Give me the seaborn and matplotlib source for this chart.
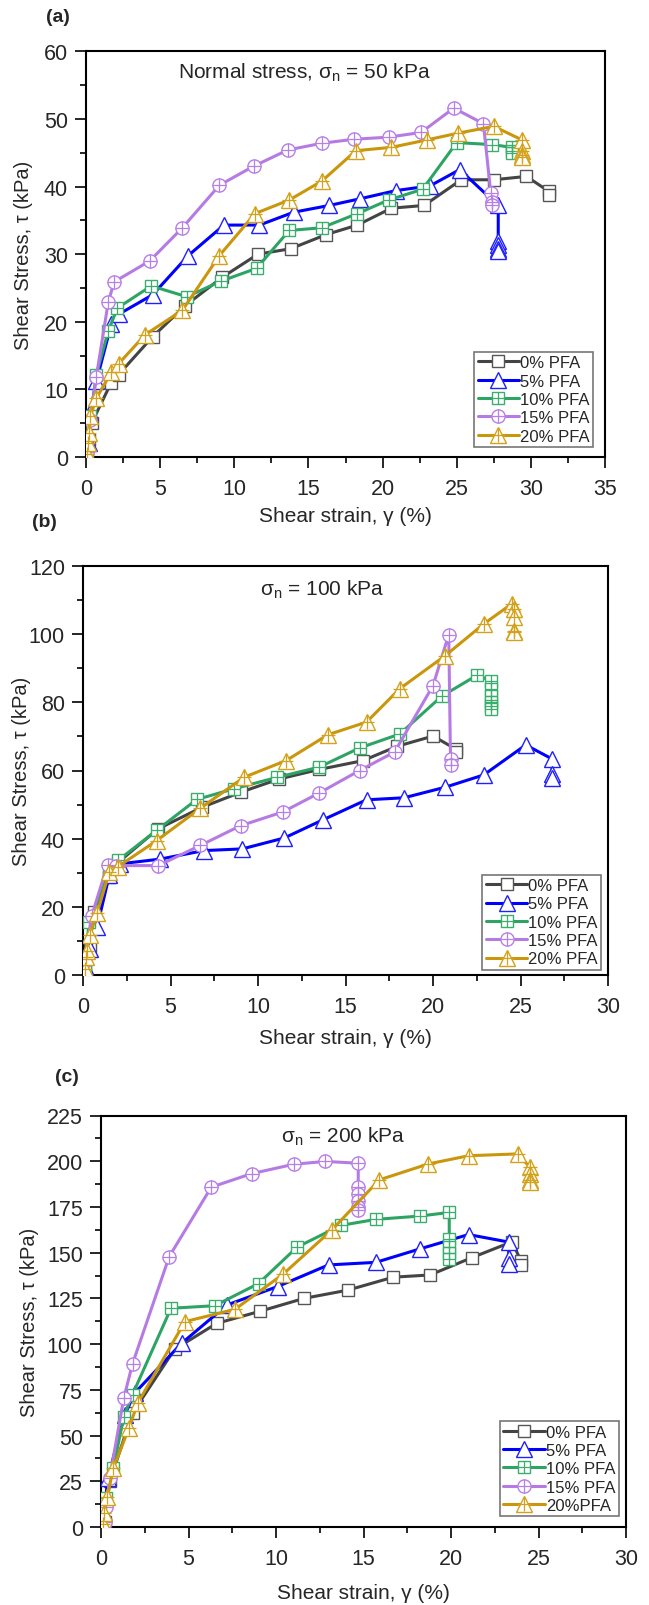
import numpy as np
import pandas as pd
import matplotlib
matplotlib.use("Agg")
import matplotlib.pyplot as plt
import seaborn as sns
from matplotlib.lines import Line2D
from matplotlib.legend_handler import HandlerTuple
from matplotlib.ticker import MultipleLocator

sns.set_style("white")
plt.rcParams['font.family'] = ['Liberation Sans', 'DejaVu Sans']
plt.rcParams['mathtext.fontset'] = 'custom'
plt.rcParams['mathtext.rm'] = 'Liberation Sans'
plt.rcParams['mathtext.it'] = 'Liberation Sans:italic'

# ---------------- DATA ----------------
series_names = ["0% PFA", "5% PFA", "10% PFA", "15% PFA", "20% PFA"]
series_names_c = ["0% PFA", "5% PFA", "10% PFA", "15% PFA", "20%PFA"]

# Panel (a): normal stress 50 kPa
a0_x = [0.1, 0.2, 0.4, 1.7, 2.2, 4.5, 6.7, 9.2, 11.6, 13.8, 16.2, 18.3, 20.6, 22.8, 25.3, 27.5, 29.7, 31.2, 31.2]
a0_y = [0.5, 2.5, 5.1, 11.0, 12.2, 17.8, 22.4, 26.6, 30.0, 30.8, 32.9, 34.3, 36.8, 37.2, 41.0, 41.0, 41.5, 39.3, 38.8]
a5_x = [0.1, 0.2, 0.3, 0.7, 1.7, 2.2, 4.5, 6.9, 9.3, 11.7, 14.0, 16.4, 18.5, 20.9, 23.2, 25.2, 27.8, 27.8, 27.8, 27.8, 27.8]
a5_y = [0.5, 2.0, 6.6, 11.2, 19.6, 21.1, 24.0, 29.8, 34.3, 34.3, 36.2, 37.2, 38.2, 39.4, 40.1, 42.5, 37.2, 32.0, 31.3, 30.8, 30.4]
a10_x = [0.1, 0.3, 0.7, 1.5, 2.1, 4.4, 6.8, 9.1, 11.5, 13.7, 15.9, 18.3, 20.4, 22.7, 25.0, 27.4, 28.7, 28.7, 28.7]
a10_y = [0.8, 6.0, 12.2, 18.6, 22.0, 25.3, 23.7, 26.0, 27.9, 33.5, 33.9, 36.0, 38.0, 39.6, 46.5, 46.2, 45.8, 45.3, 45.0]
a15_x = [0.1, 0.3, 0.7, 1.5, 1.9, 4.3, 6.5, 9.0, 11.3, 13.6, 15.9, 18.1, 20.4, 22.6, 24.8, 26.8, 27.3, 27.4, 27.4]
a15_y = [0.8, 5.5, 11.9, 22.9, 25.9, 29.0, 33.9, 40.2, 43.0, 45.4, 46.4, 47.0, 47.3, 48.0, 51.6, 49.3, 39.0, 37.7, 37.2]
a20_x = [0.1, 0.15, 0.2, 0.3, 0.7, 1.7, 2.2, 4.0, 6.5, 9.0, 11.4, 13.7, 15.9, 18.2, 20.6, 23.0, 25.1, 27.5, 29.4, 29.4, 29.4, 29.4]
a20_y = [0.5, 2.0, 3.5, 6.1, 8.7, 12.5, 13.8, 18.1, 21.7, 29.8, 36.0, 38.0, 40.8, 45.3, 45.8, 46.9, 47.9, 48.9, 46.9, 45.3, 44.6, 44.3]

# Panel (b): normal stress 100 kPa
b0_x = [0.1, 0.4, 0.6, 1.5, 2.0, 4.3, 6.8, 9.0, 11.2, 13.5, 16.0, 17.95, 20.0, 21.3, 21.3]
b0_y = [1.8, 8.6, 18.4, 28.7, 33.0, 42.9, 49.2, 53.6, 57.5, 60.3, 62.9, 67.1, 70.1, 66.3, 65.4]
b5_x = [0.1, 0.4, 0.8, 1.5, 2.1, 4.4, 6.9, 9.1, 11.5, 13.7, 16.2, 18.35, 20.7, 22.9, 25.3, 26.8, 26.8, 26.8]
b5_y = [2.7, 7.6, 14.0, 29.2, 32.6, 34.0, 36.5, 37.0, 40.2, 45.5, 51.4, 52.0, 55.1, 58.7, 67.5, 63.4, 59.0, 57.7]
b10_x = [0.1, 0.35, 1.5, 2.0, 4.2, 6.5, 8.6, 11.1, 13.5, 15.8, 18.1, 20.5, 22.5, 23.3, 23.3, 23.3, 23.3, 23.3, 23.3]
b10_y = [3.0, 15.5, 30.1, 33.6, 42.4, 51.5, 54.6, 58.0, 61.0, 66.6, 70.7, 81.8, 87.9, 86.4, 84.0, 82.0, 80.0, 79.0, 78.0]
b15_x = [0.1, 0.5, 1.4, 1.9, 4.3, 6.7, 9.0, 11.4, 13.5, 15.8, 17.8, 20.0, 20.9, 21.0, 21.0]
b15_y = [4.0, 17.4, 32.3, 32.1, 32.1, 38.0, 43.8, 47.8, 53.4, 60.0, 65.4, 84.9, 99.9, 63.4, 61.6]
b20_x = [0.1, 0.17, 0.2, 0.4, 0.8, 1.5, 2.0, 4.2, 6.7, 9.2, 11.6, 14.0, 16.2, 18.1, 20.7, 22.9, 24.5, 24.6, 24.6, 24.6, 24.6]
b20_y = [1.8, 5.2, 7.0, 11.8, 18.1, 30.1, 31.8, 39.4, 48.9, 58.0, 62.9, 70.5, 74.2, 84.0, 93.7, 103.0, 108.9, 107.4, 105.0, 101.0, 100.6]

# Panel (c): normal stress 200 kPa
c0_x = [0.2, 0.5, 1.8, 4.2, 6.6, 9.1, 11.6, 14.1, 16.7, 18.8, 21.2, 23.5, 24.0, 24.0]
c0_y = [2.6, 24.9, 62.3, 97.1, 111.3, 118.0, 125.0, 129.5, 136.6, 137.8, 147.3, 156.0, 145.3, 143.3]
c5_x = [0.17, 0.4, 1.35, 1.95, 4.6, 7.2, 10.1, 13.0, 15.7, 18.2, 21.0, 23.3, 23.3, 23.3]
c5_y = [7.7, 26.9, 61.3, 73.5, 100.4, 121.4, 131.5, 143.3, 144.7, 152.0, 159.9, 155.8, 147.3, 143.9]
c10_x = [0.3, 0.7, 1.3, 1.8, 4.0, 6.5, 9.0, 11.2, 13.7, 15.7, 18.2, 19.9, 19.9, 19.9, 19.9, 19.9]
c10_y = [15.8, 32.0, 60.3, 72.4, 119.6, 121.0, 133.1, 153.0, 164.9, 168.2, 170.0, 172.0, 157.4, 153.0, 150.0, 146.3]
c15_x = [0.2, 0.3, 0.5, 1.3, 1.8, 3.9, 6.3, 8.6, 11.0, 12.8, 14.7, 14.7, 14.7, 14.7, 14.7, 14.7]
c15_y = [2.6, 10.7, 26.9, 70.4, 89.2, 147.9, 185.8, 193.2, 198.3, 199.9, 198.9, 185.8, 182.0, 178.0, 175.0, 173.6]
c20_x = [0.1, 0.17, 0.35, 0.7, 1.6, 2.1, 4.8, 7.65, 10.4, 13.2, 15.9, 18.7, 21.0, 23.8, 24.5, 24.5, 24.5, 24.5]
c20_y = [1.6, 7.7, 16.2, 32.0, 54.2, 67.8, 112.3, 119.0, 138.2, 162.5, 189.8, 198.5, 203.0, 204.0, 196.9, 193.0, 190.0, 188.8]

panel_labels = ["(a)", "(b)", "(c)"]
panel_notes = [r"Normal stress, $\mathregular{\sigma_n}$ = 50 kPa",
               r"$\mathregular{\sigma_n}$ = 100 kPa",
               r"$\mathregular{\sigma_n}$ = 200 kPa"]
x_max = [35, 30, 30]
y_max = [60, 120, 225]
y_major = [10, 20, 25]

# ---------------- STYLE ----------------
line_colors = ["#444444", "#0000ff", "#2ea464", "#b67be3", "#c9960c"]
edge_colors = ["#555555", "#1f1fff", "#3aae6e", "#b77fe8", "#d4a21a"]
base_markers = ["s", "^", "s", "o", "^"]
plus_overlay = [False, False, True, True, True]
msizes = [8.5, 11, 8.5, 9.5, 11]

fig = plt.figure(figsize=(6.49, 16.06), dpi=100)
W, H = 649.0, 1606.0
# axes boxes in pixels: left, top, right, bottom
axes_px = [(86, 52.3, 605, 458), (83, 567, 608, 976), (101, 1116.5, 626, 1528)]
legend_anchor = [(0.977, 0.025), (0.987, 0.013), (0.986, 0.026)]
note_pos = [(0.42, 0.95), (0.455, 0.944), (0.461, 0.951)]
label_px = [(46, 17), (32, 523), (55, 1077)]
ylabel_x = [-0.121, -0.118, -0.137]
xlabel_y = [-0.144, -0.152, -0.158]

panels = [
    [(a0_x, a0_y), (a5_x, a5_y), (a10_x, a10_y), (a15_x, a15_y), (a20_x, a20_y)],
    [(b0_x, b0_y), (b5_x, b5_y), (b10_x, b10_y), (b15_x, b15_y), (b20_x, b20_y)],
    [(c0_x, c0_y), (c5_x, c5_y), (c10_x, c10_y), (c15_x, c15_y), (c20_x, c20_y)],
]
legend_names = [series_names, series_names, series_names_c]

for p in range(3):
    l, t, r, b = axes_px[p]
    ax = fig.add_axes([l / W, 1 - b / H, (r - l) / W, (b - t) / H])
    rows = []
    for i, (xs, ys) in enumerate(panels[p]):
        for j, (xv, yv) in enumerate(zip(xs, ys)):
            rows.append({"strain": xv, "stress": yv, "series": legend_names[p][i], "order": j})
    df = pd.DataFrame(rows)
    handles = []
    for i, name in enumerate(legend_names[p]):
        sub = df[df["series"] == name].sort_values("order")
        sns.lineplot(data=sub, x="strain", y="stress", estimator=None, sort=False,
                     color=line_colors[i], lw=2.2, marker=base_markers[i],
                     markersize=msizes[i], markerfacecolor="white",
                     markeredgecolor=edge_colors[i], markeredgewidth=1.0,
                     ax=ax, legend=False, zorder=3 + i)
        h_base = Line2D([], [], color=line_colors[i], lw=2.2, marker=base_markers[i],
                        markersize=msizes[i], markerfacecolor="white",
                        markeredgecolor=edge_colors[i], markeredgewidth=1.0)
        if plus_overlay[i]:
            pm = msizes[i] if base_markers[i] != "^" else msizes[i] * 0.95
            ax.plot(sub["strain"], sub["stress"], ls="none", marker="+",
                    markersize=pm, markeredgecolor=edge_colors[i],
                    markeredgewidth=0.9, zorder=3.5 + i)
            h_plus = Line2D([], [], ls="none", marker="+", markersize=pm,
                            markeredgecolor=edge_colors[i], markeredgewidth=0.9)
            handles.append((h_base, h_plus))
        else:
            handles.append(h_base)

    ax.set_xlim(0, x_max[p])
    ax.set_ylim(0, y_max[p])
    ax.xaxis.set_major_locator(MultipleLocator(5))
    ax.xaxis.set_minor_locator(MultipleLocator(2.5))
    ax.yaxis.set_major_locator(MultipleLocator(y_major[p]))
    ax.yaxis.set_minor_locator(MultipleLocator(y_major[p] / 2))
    ax.tick_params(axis="both", which="major", direction="out", length=8, width=1.4,
                   labelsize=15.5, bottom=True, left=True, top=False, right=False)
    ax.tick_params(axis="x", which="major", pad=7)
    ax.tick_params(axis="y", which="major", pad=5)
    ax.tick_params(axis="both", which="minor", direction="out", length=4, width=1.4,
                   bottom=True, left=True, top=False, right=False)
    for s in ax.spines.values():
        s.set_visible(True)
        s.set_linewidth(1.5)
        s.set_color("black")
    ax.set_xlabel("Shear strain, γ (%)", fontsize=15)
    ax.set_ylabel("Shear Stress, τ (kPa)", fontsize=14.5)
    ax.xaxis.set_label_coords(0.5, xlabel_y[p])
    ax.yaxis.set_label_coords(ylabel_x[p], 0.5)
    ax.xaxis.label.set_va("center")
    ax.yaxis.label.set_va("center")
    ax.text(note_pos[p][0], note_pos[p][1], panel_notes[p], transform=ax.transAxes,
            ha="center", va="center", fontsize=15)
    leg = ax.legend(handles, legend_names[p], loc="lower right",
                    bbox_to_anchor=legend_anchor[p], fontsize=12,
                    handler_map={tuple: HandlerTuple(ndivide=1)},
                    frameon=True, fancybox=False, edgecolor="#555555",
                    borderpad=0.2, labelspacing=0.2, handlelength=2.5,
                    handletextpad=0.05, borderaxespad=0.0)
    leg.get_frame().set_linewidth(1.2)
    fig.text(label_px[p][0] / W, 1 - label_px[p][1] / H, panel_labels[p],
             fontsize=14, fontweight="bold", ha="left", va="center")

fig.savefig("out.png", dpi=100)
